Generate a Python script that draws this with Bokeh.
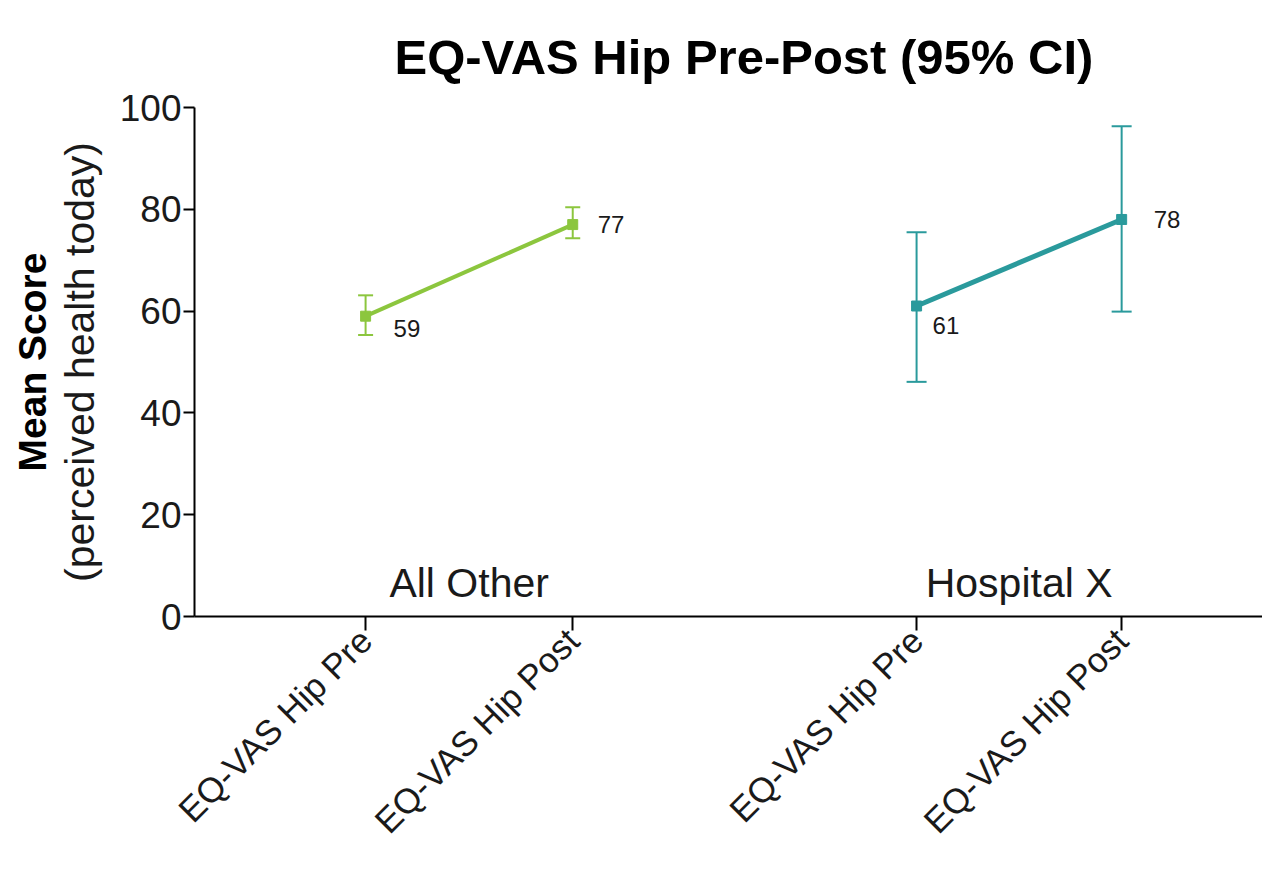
import numpy as np
from bokeh.plotting import figure
from bokeh.models import FixedTicker, LinearAxis, ColumnDataSource, Whisker, Range1d
from bokeh.core.properties import value
from bokeh.embed import file_html
from bokeh.resources import INLINE

# ---- data ----
groups = ["All Other", "Hospital X"]
tick_labels = ["EQ-VAS Hip Pre", "EQ-VAS Hip Post"]
x_all_other = [1.0, 2.0]
x_hospital = [3.66, 4.65]
all_other_mean = [59, 77]
all_other_lower = [55.3, 74.3]
all_other_upper = [63.1, 80.4]
hospital_mean = [61, 78]
hospital_lower = [46.1, 59.9]
hospital_upper = [75.5, 96.3]
y_ticks = [0, 20, 40, 60, 80, 100]

GREEN = "#8cc63e"
TEAL = "#2a9a9c"
FONT = "Liberation Sans"
TXT = "#1a1a1a"

p = figure(width=1262, height=857, output_backend="svg", toolbar_location=None,
           x_range=Range1d(0.174, 5.33), y_range=Range1d(0, 100),
           min_border_left=194, min_border_right=0, min_border_top=107, min_border_bottom=240)
p.outline_line_color = None
p.grid.visible = False
p.background_fill_color = "white"

p.title.text = "EQ-VAS Hip Pre-Post (95% CI)"
p.title.text_font = FONT
p.title.text_font_size = "49px"
p.title.text_font_style = "bold"
p.title.text_color = "#000000"
p.title.align = "left"
p.title.offset = 200
p.title.vertical_align = "top"
p.title.standoff = 44

# axes
xticks = x_all_other + x_hospital
p.xaxis.ticker = FixedTicker(ticks=xticks)
p.xaxis.major_label_overrides = {x: lab for x, lab in zip(xticks, tick_labels * 2)}
p.xaxis.major_label_orientation = np.pi / 4
p.xaxis.major_label_text_font = FONT
p.xaxis.major_label_text_font_size = "35px"
p.xaxis.major_label_text_color = TXT
p.xaxis.major_label_standoff = 4
p.xaxis.minor_tick_line_color = None
p.xaxis.major_tick_out = 14
p.xaxis.major_tick_in = 0
p.xaxis.axis_line_width = 2
p.xaxis.major_tick_line_width = 2

p.yaxis.ticker = FixedTicker(ticks=y_ticks)
p.yaxis.major_label_text_font = FONT
p.yaxis.major_label_text_font_size = "37px"
p.yaxis.major_label_text_color = TXT
p.yaxis.minor_tick_line_color = None
p.yaxis.major_tick_out = 11
p.yaxis.major_tick_in = 0
p.yaxis.major_label_standoff = 2
p.yaxis.axis_line_width = 2
p.yaxis.major_tick_line_width = 2
p.yaxis.axis_label = "(perceived health today)"
p.yaxis.axis_label_text_font = FONT
p.yaxis.axis_label_text_font_size = "41px"
p.yaxis.axis_label_text_font_style = "normal"
p.yaxis.axis_label_text_color = TXT
p.yaxis.axis_label_standoff = 14

# outer axis carrying only the bold first line of the y title
outer = LinearAxis(ticker=FixedTicker(ticks=[]), axis_line_color=None,
                   major_tick_line_color=None, minor_tick_line_color=None,
                   major_label_text_font_size="0px", major_tick_out=0, major_tick_in=0,
                   major_label_standoff=0,
                   axis_label="Mean Score", axis_label_text_font=FONT,
                   axis_label_text_font_size="39px", axis_label_text_font_style="bold",
                   axis_label_text_color="#000000", axis_label_standoff=0)
p.add_layout(outer, "left")


def series(xs, mean, lower, upper, color, lw, cap, msize):
    src = ColumnDataSource(dict(x=xs, mean=mean, lower=lower, upper=upper))
    w = Whisker(source=src, base="x", lower="lower", upper="upper", dimension="height",
                line_color=color, line_width=2)
    for h in (w.upper_head, w.lower_head):
        h.size = cap
        h.line_color = color
        h.line_width = 2
    p.add_layout(w)
    p.line("x", "mean", source=src, line_color=color, line_width=lw)
    p.scatter("x", "mean", source=src, marker="square", size=msize, fill_color=color, line_color=color)
    return src


series(x_all_other, all_other_mean, all_other_lower, all_other_upper, GREEN, 4, 15, 10)
series(x_hospital, hospital_mean, hospital_lower, hospital_upper, TEAL, 5, 20, 10)

# value labels: pre below-right, post right
for xs, mean, pre_dx, pre_dy, post_dx in ((x_all_other, all_other_mean, 28, 12, 25),
                                           (x_hospital, hospital_mean, 16, 19, 32)):
    p.text(x=[xs[0]], y=[mean[0]], text=[str(mean[0])], x_offset=pre_dx, y_offset=pre_dy,
           text_font=value(FONT), text_font_size="24px", text_baseline="middle",
           text_color=TXT)
    p.text(x=[xs[1]], y=[mean[1]], text=[str(mean[1])], x_offset=post_dx, y_offset=0,
           text_font=value(FONT), text_font_size="24px", text_baseline="middle",
           text_color=TXT)

# group labels
p.text(x=[(x_all_other[0] + x_all_other[1]) / 2, (x_hospital[0] + x_hospital[1]) / 2],
       y=[6.6, 6.6], text=groups, text_font=value(FONT), text_font_size="41px",
       text_align="center", text_baseline="middle", text_color=TXT)

open("out.html", "w").write(file_html(p, INLINE))
